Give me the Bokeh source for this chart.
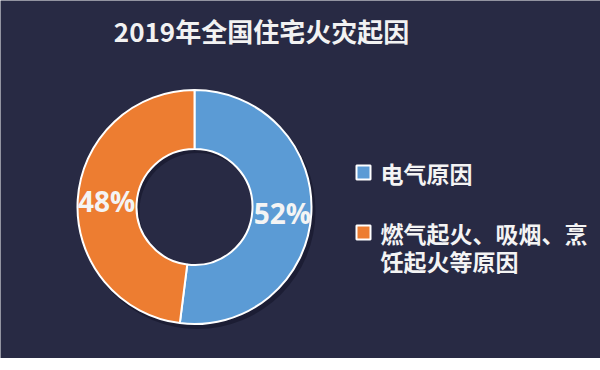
import numpy as np
from bokeh.plotting import figure
from bokeh.models import ColumnDataSource, Range1d
from bokeh.core.properties import value
from bokeh.embed import file_html
from bokeh.resources import INLINE

# ---- data ----
title = "2019年全国住宅火灾起因"
categories = ["电气原因", "燃气起火、吸烟、烹饪起火等原因"]
values = [52, 48]
colors = ["#5b9bd5", "#ed7d31"]

# ---- layout ----
W, H = 600, 358
BG = "#282a44"
CJK = "Noto Sans CJK SC"
cx, cy = 194, 151.5
r_in, r_out = 58, 117

p = figure(width=W, height=H, output_backend="svg", toolbar_location=None,
           x_range=Range1d(0, W), y_range=Range1d(0, H), min_border=0,
           background_fill_color=BG, border_fill_color=BG, outline_line_color=None)
p.axis.visible = False
p.grid.visible = False

vals = np.array(values, dtype=float)
frac = vals / vals.sum()
ends = np.pi / 2 - np.concatenate([[0], np.cumsum(frac)[:-1]]) * 2 * np.pi
starts = ends - frac * 2 * np.pi
mids = (starts + ends) / 2

src = ColumnDataSource(dict(start=starts, end=ends, color=colors, cat=categories))

# shadow
p.annular_wedge(x=cx + 3, y=cy - 4, inner_radius=r_in, outer_radius=r_out + 1,
                start_angle=-np.pi, end_angle=np.pi, fill_color="#14152a",
                fill_alpha=0.6, line_color=None)

p.annular_wedge(x=cx, y=cy, inner_radius=r_in, outer_radius=r_out,
                start_angle="start", end_angle="end", fill_color="color",
                line_color="white", line_width=2, source=src)

# percent labels
lr = 88
labels = [f"{int(round(f * 100))}%" for f in frac]
lab_src = ColumnDataSource(dict(x=cx + lr * np.cos(mids), y=cy + lr * np.sin(mids), t=labels))
p.text(x="x", y="y", text="t", source=lab_src, text_color="#f4f4f4",
       text_font=value("Open Sans"), text_font_style="bold", text_font_size="28px",
       text_align="center", text_baseline="middle")

# title
p.text(x=[261], y=[328], text=[title], text_color="#f2f2f2",
       text_font=value(CJK), text_font_style="bold", text_font_size="26px",
       text_align="center", text_baseline="middle")

# legend
lx_box, lx_text = 363, 380
row_y = [186, 126]
line_h = 28
wrap = 9
for cat, col, ry in zip(categories, colors, row_y):
    p.rect(x=[lx_box], y=[ry], width=14, height=14, fill_color=col,
           line_color="white", line_width=2)
    lines = [cat[i:i + wrap] for i in range(0, len(cat), wrap)]
    p.text(x=[lx_text] * len(lines), y=[ry - k * line_h for k in range(len(lines))],
           text=lines, text_color="#f4f4f4", text_font=value(CJK),
           text_font_style="bold", text_font_size="23px",
           text_align="left", text_baseline="middle")

open("out.html", "w").write(file_html(p, INLINE))
